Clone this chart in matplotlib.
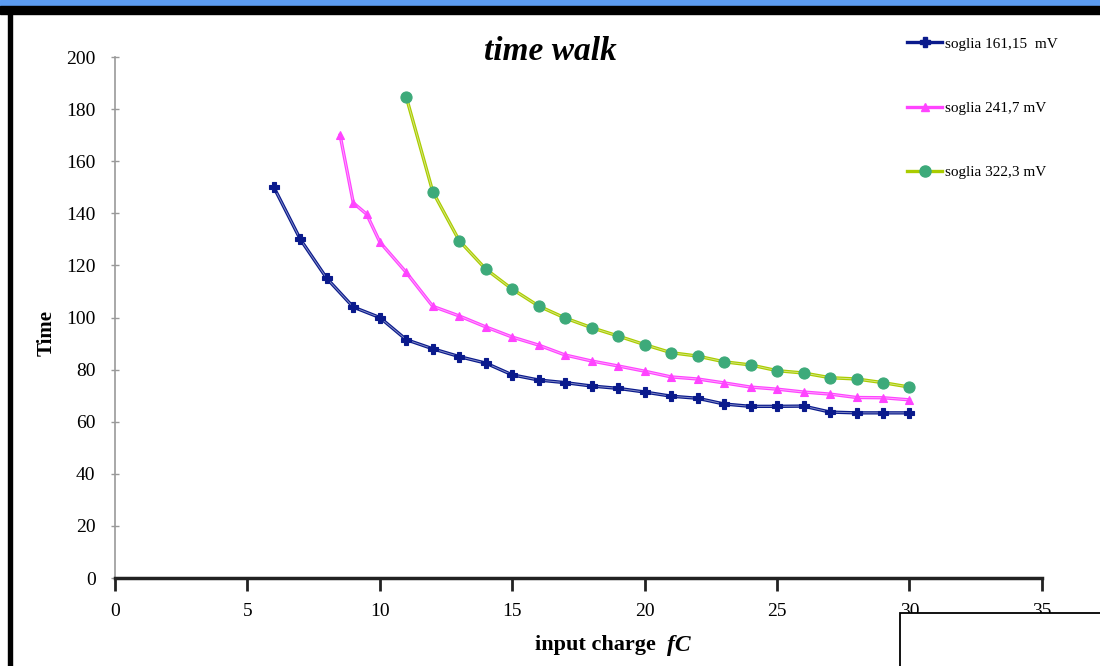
import matplotlib.pyplot as plt
import matplotlib.patheffects as pe
from matplotlib.patches import Rectangle
from matplotlib.lines import Line2D

plt.rcParams['font.family'] = ['Liberation Serif', 'DejaVu Serif']

# soglia 161,15 mV
q_161 = [6, 7, 8, 9, 10, 11, 12, 13, 14, 15, 16, 17, 18, 19, 20, 21, 22, 23, 24, 25, 26, 27, 28, 29, 30]
t_161 = [150, 130, 115, 104, 100, 91.5, 88, 85, 82.5, 78, 76, 75, 73.7, 72.8, 71.4, 69.8, 69, 66.8, 65.9, 65.9, 66, 63.7, 63.4, 63.4, 63.4]

# soglia 241,7 mV
q_241 = [8.5, 9, 9.5, 10, 11, 12, 13, 14, 15, 16, 17, 18, 19, 20, 21, 22, 23, 24, 25, 26, 27, 28, 29, 30]
t_241 = [170, 144, 139.7, 129, 117.3, 104.3, 100.6, 96.4, 92.5, 89.4, 85.6, 83.3, 81.4, 79.4, 77.2, 76.4, 74.9, 73.3, 72.5, 71.4, 70.6, 69.3, 69.2, 68.4]

# soglia 322,3 mV
q_322 = [11, 12, 13, 14, 15, 16, 17, 18, 19, 20, 21, 22, 23, 24, 25, 26, 27, 28, 29, 30]
t_322 = [184.6, 148.3, 129.5, 118.6, 110.9, 104.4, 99.8, 96.1, 92.9, 89.6, 86.5, 85.2, 83, 81.8, 79.6, 78.7, 76.9, 76.4, 75, 73.3]

labels = ['soglia 161,15  mV', 'soglia 241,7 mV', 'soglia 322,3 mV']
x_ticks = [0, 5, 10, 15, 20, 25, 30, 35]
y_ticks = [0, 20, 40, 60, 80, 100, 120, 140, 160, 180, 200]

fig = plt.figure(figsize=(11, 6.66), dpi=100, facecolor='white')
ax = fig.add_axes([0.1045, 0.1321, 0.8427, 0.7823])

def hollow(c):
    return [pe.Stroke(linewidth=2.4, foreground=c), pe.Stroke(linewidth=0.7, foreground='white', alpha=0.5)]

series = [
    (q_161, t_161, '#0A1A8C', 'P', 6.5, '#0A1A8C'),
    (q_241, t_241, '#FF44FF', '^', 5.5, '#FF44FF'),
    (q_322, t_322, '#AACC00', 'o', 8, '#3DAA7A'),
]
handles = []
for (q, t, lc, m, ms, mc), lab in zip(series, labels):
    ax.plot(q, t, color=lc, lw=1.4, path_effects=hollow(lc))
    ax.plot(q, t, ls='none', marker=m, ms=ms, mfc=mc, mec=mc, mew=0.8)
    handles.append(Line2D([], [], color=lc, lw=2.4, marker=m, ms=ms, mfc=mc, mec=mc))

ax.set_xlim(0, 35)
ax.set_ylim(0, 200)
ax.set_xticks(x_ticks)
ax.set_yticks(y_ticks)
ax.spines['top'].set_visible(False)
ax.spines['right'].set_visible(False)
ax.spines['left'].set_color('#999999')
ax.spines['left'].set_linewidth(1.2)
ax.spines['bottom'].set_color('#222222')
ax.spines['bottom'].set_linewidth(2.5)
ax.tick_params(axis='x', direction='out', length=9, width=2, pad=9, labelsize=14, color='#222222')
ax.tick_params(axis='y', direction='inout', length=6, width=1, pad=11, labelsize=14, color='#999999')

fig.text(0.5, 0.923, 'time walk', fontsize=24, fontweight='bold', style='italic', ha='center', va='center')
fig.text(0.596, 0.031, 'input charge', fontsize=16, fontweight='bold', ha='right', va='center')
fig.text(0.606, 0.031, 'fC', fontsize=17, fontweight='bold', style='italic', ha='left', va='center')
fig.text(0.042, 0.50, 'Time', fontsize=15, fontweight='bold', rotation=90, ha='center', va='center')

ax.legend(handles, labels, loc='upper left', bbox_to_anchor=(0.848, 1.05), frameon=False, fontsize=11,
          labelspacing=3.3, handlelength=2.3, handletextpad=0.15, borderaxespad=0)

# page frame
fig.patches.append(Rectangle((0, 0.991), 1, 0.009, transform=fig.transFigure, color='#5B9BF0', zorder=10))
fig.patches.append(Rectangle((0, 0.979), 1, 0.012, transform=fig.transFigure, color='black', zorder=10))
fig.patches.append(Rectangle((0.007, 0), 0.0035, 0.98, transform=fig.transFigure, color='black', zorder=10))
fig.patches.append(Rectangle((0.818, -0.01), 0.19, 0.09, transform=fig.transFigure, facecolor='white',
                             edgecolor='black', lw=1.3, zorder=10))

fig.savefig('out.png', dpi=100, facecolor='white')
